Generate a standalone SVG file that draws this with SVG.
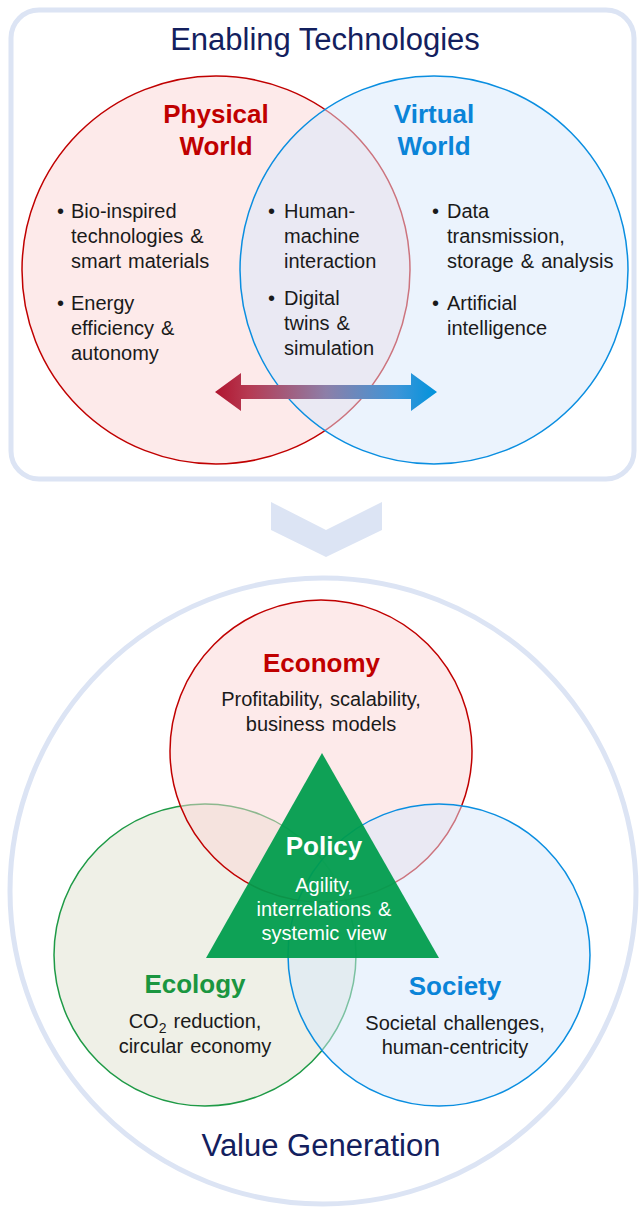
<svg xmlns="http://www.w3.org/2000/svg" width="639" height="1207" viewBox="0 0 639 1207">
<style>
text { font-family: "Liberation Sans", Arial, sans-serif; }
.body { font-size: 20px; fill: #1a1a1a; word-spacing: 1.5px; }
.mid { text-anchor: middle; }
.title { font-size: 31px; fill: #13205e; text-anchor: middle; }
.head { font-size: 26px; font-weight: bold; text-anchor: middle; }
.frame { fill: none; stroke: #dce4f4; stroke-width: 5; }
.red { fill: #c00000; }
.blue { fill: #0a84d8; }
.green { fill: #1a9640; }
.white { fill: #ffffff; }
</style>
<defs>
<linearGradient id="arrowGrad" gradientUnits="userSpaceOnUse" x1="215" y1="0" x2="437" y2="0">
<stop offset="0" stop-color="#b0152f"/>
<stop offset="0.15" stop-color="#b63a52"/>
<stop offset="0.5" stop-color="#8d7fa8"/>
<stop offset="0.82" stop-color="#3d95d8"/>
<stop offset="1" stop-color="#0093dc"/>
</linearGradient>
</defs>
<rect width="639" height="1207" fill="#ffffff"/>

<g id="enabling-technologies">
<rect class="frame" x="11" y="10" width="623" height="469" rx="28"/>
<text class="title" x="325" y="50">Enabling Technologies</text>
</g>

<g id="physical-world">
<circle cx="216" cy="270" r="194" fill="#fdeaea" stroke="#c00000" stroke-width="1.5"/>
<text class="head red" x="216" y="123">Physical</text>
<text class="head red" x="216" y="155">World</text>
<text class="body"><tspan x="57" y="218">•</tspan><tspan x="71" y="218">Bio-inspired</tspan><tspan x="71" y="243">technologies &amp;</tspan><tspan x="71" y="268">smart materials</tspan></text>
<text class="body"><tspan x="57" y="310">•</tspan><tspan x="71" y="310">Energy</tspan><tspan x="71" y="335">efficiency &amp;</tspan><tspan x="71" y="360">autonomy</tspan></text>
</g>

<g id="virtual-world">
<circle cx="434" cy="270" r="194" fill="#d7e7fb" fill-opacity="0.5" stroke="#0a8ee0" stroke-width="1.5"/>
<text class="head blue" x="434" y="123">Virtual</text>
<text class="head blue" x="434" y="155">World</text>
<text class="body"><tspan x="432" y="218">•</tspan><tspan x="447" y="218">Data</tspan><tspan x="447" y="243">transmission,</tspan><tspan x="447" y="268">storage &amp; analysis</tspan></text>
<text class="body"><tspan x="432" y="310">•</tspan><tspan x="447" y="310">Artificial</tspan><tspan x="447" y="335">intelligence</tspan></text>
</g>

<g id="shared-technologies">
<text class="body"><tspan x="268" y="218">•</tspan><tspan x="284" y="218">Human-</tspan><tspan x="284" y="243">machine</tspan><tspan x="284" y="268">interaction</tspan></text>
<text class="body"><tspan x="268" y="305">•</tspan><tspan x="284" y="305">Digital</tspan><tspan x="284" y="330">twins &amp;</tspan><tspan x="284" y="355">simulation</tspan></text>
</g>

<g id="value-generation">
<circle class="frame" cx="323" cy="891" r="313"/>
<text class="title" x="321" y="1156">Value Generation</text>
</g>

<g id="ecology">
<circle cx="205" cy="955" r="151" fill="#eff0e7" stroke="#1e9a46" stroke-width="1.5"/>
<text class="head green" x="195" y="993">Ecology</text>
<text class="body mid" x="195" y="1028">CO<tspan font-size="14" dy="5">2</tspan><tspan dy="-5"> reduction,</tspan></text>
<text class="body mid" x="195" y="1053">circular economy</text>
</g>

<g id="economy">
<circle cx="321" cy="751" r="151" fill="#fbd5d5" fill-opacity="0.5" stroke="#c00000" stroke-width="1.5"/>
<text class="head red" x="321.5" y="672">Economy</text>
<text class="body mid" x="321" y="706">Profitability, scalability,</text>
<text class="body mid" x="321" y="731">business models</text>
</g>

<g id="society">
<circle cx="439" cy="955" r="151" fill="#d7e7fb" fill-opacity="0.5" stroke="#0a8ee0" stroke-width="1.5"/>
<text class="head blue" x="455" y="995">Society</text>
<text class="body mid" x="455" y="1030">Societal challenges,</text>
<text class="body mid" x="455" y="1054">human-centricity</text>
</g>

<g id="policy">
<polygon points="322,753 206,958 439,958" fill="#009c4c" fill-opacity="0.94"/>
<text class="head white" x="324" y="855">Policy</text>
<text class="body mid white" x="324" y="892">Agility,</text>
<text class="body mid white" x="324" y="916">interrelations &amp;</text>
<text class="body mid white" x="324" y="940">systemic view</text>
</g>

<g id="connectors">
<path d="M215,392 L241,373 L241,385 L411,385 L411,373 L437,392 L411,411 L411,399 L241,399 L241,411 Z" fill="url(#arrowGrad)"/>
<path d="M271,502 L326,530 L382,502 L382,530 L326,557 L271,530 Z" fill="#dce4f4"/>
</g>
</svg>
